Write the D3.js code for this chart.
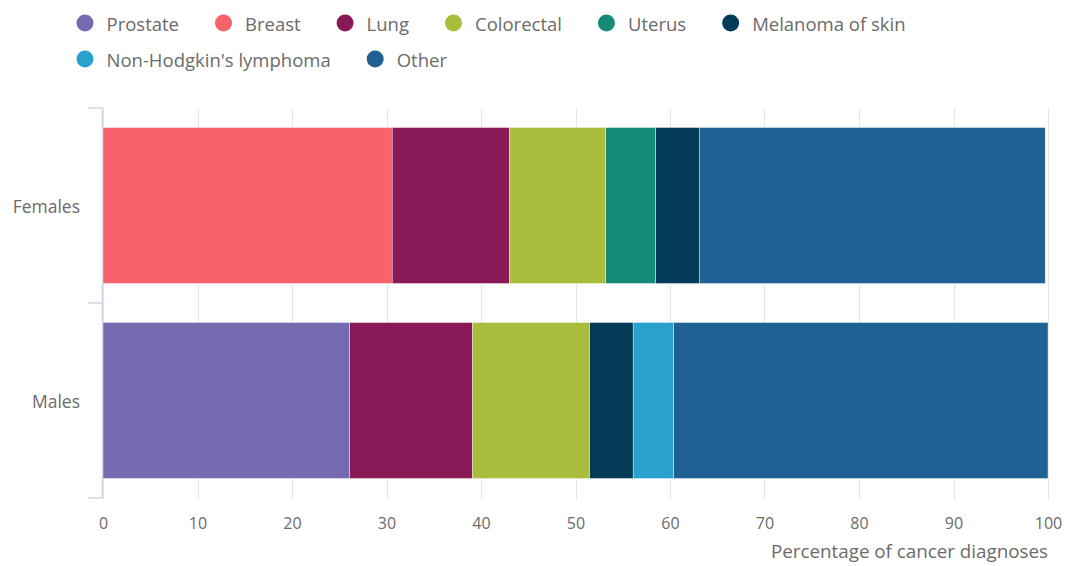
<!DOCTYPE html>
<html>
<head>
<meta charset="utf-8">
<script src="https://cdn.jsdelivr.net/npm/d3@7"></script>
<style>
  html, body { margin: 0; padding: 0; background: #fff; }
  svg { display: block; font-family: "Open Sans", "Noto Sans", sans-serif; }
</style>
</head>
<body>
<svg id="chart" width="1076" height="566"></svg>
<script>
// Groups shown on the vertical axis
const groups = ["Females", "Males"];

// Cancer types, in stacking / legend order
const cancerTypes = ["Prostate", "Breast", "Lung", "Colorectal", "Uterus",
  "Melanoma of skin", "Non-Hodgkin's lymphoma", "Other"];

// Share of diagnoses (%) for each type, one value per group (Females, Males)
const prostate   = [0,    26.1];
const breast     = [30.6, 0];
const lung       = [12.4, 13.0];
const colorectal = [10.2, 12.4];
const uterus     = [5.3,  0];
const melanoma   = [4.6,  4.6];
const nhl        = [0,    4.3];
const other      = [36.6, 39.6];

const typeColors = ["#746bb1", "#f6616a", "#891a57", "#aabc3b", "#158a77",
  "#023a57", "#28a2cd", "#206194"];

const xTicks = [0, 10, 20, 30, 40, 50, 60, 70, 80, 90, 100];
const xTitle = "Percentage of cancer diagnoses";

// Build rows for d3.stack
const seriesValues = [prostate, breast, lung, colorectal, uterus, melanoma, nhl, other];
const rows = groups.map((g, i) => {
  const r = { group: g };
  cancerTypes.forEach((t, k) => { r[t] = seriesValues[k][i]; });
  return r;
});

const svg = d3.select("#chart");
const margin = { left: 103, right: 28, top: 108, bottom: 68 };
const W = 1076, H = 566;
const textGray = "#6b6b6b";

const x = d3.scaleLinear().domain([0, 100]).range([margin.left, W - margin.right]);
const y = d3.scaleBand().domain(groups).range([margin.top, H - margin.bottom])
  .paddingInner(0.2).paddingOuter(0.1);
const color = d3.scaleOrdinal().domain(cancerTypes).range(typeColors);

// Vertical gridlines
svg.append("g").selectAll("line").data(xTicks).join("line")
  .attr("x1", d => Math.round(x(d)) + 0.5).attr("x2", d => Math.round(x(d)) + 0.5)
  .attr("y1", margin.top).attr("y2", H - margin.bottom + 2)
  .attr("stroke", "#e6e6e6").attr("stroke-width", 1);

// Category axis (left): line with ticks at band boundaries
const yAxisG = svg.append("g");
const bandEdges = [margin.top, (y("Females") + y.bandwidth() + y("Males")) / 2, H - margin.bottom];
yAxisG.append("line")
  .attr("x1", margin.left - 0.5).attr("x2", margin.left - 0.5)
  .attr("y1", margin.top).attr("y2", H - margin.bottom)
  .attr("stroke", "#ccd6eb").attr("stroke-width", 1.5);
yAxisG.selectAll("line.tick").data(bandEdges).join("line").attr("class", "tick")
  .attr("x1", margin.left - 15).attr("x2", margin.left)
  .attr("y1", d => d).attr("y2", d => d)
  .attr("stroke", "#ccd6eb").attr("stroke-width", 1.5);
yAxisG.selectAll("text").data(groups).join("text")
  .attr("x", margin.left - 23)
  .attr("y", d => y(d) + y.bandwidth() / 2)
  .attr("text-anchor", "end").attr("dominant-baseline", "central")
  .attr("fill", textGray).attr("font-size", 17.5)
  .text(d => d);

// Stacked bars
const stacked = d3.stack().keys(cancerTypes)(rows);
svg.append("g").selectAll("g").data(stacked).join("g")
  .attr("fill", d => color(d.key))
  .selectAll("rect").data(d => d.filter(p => p[1] - p[0] > 0)).join("rect")
  .attr("x", d => x(d[0]))
  .attr("width", d => x(d[1]) - x(d[0]))
  .attr("y", d => y(d.data.group))
  .attr("height", y.bandwidth())
  .attr("stroke", "#fff").attr("stroke-width", 0.4);

// Value axis labels
const xAxis = d3.axisBottom(x).tickValues(xTicks).tickSize(0).tickPadding(0);
const xg = svg.append("g").attr("transform", `translate(0, ${H - margin.bottom + 20})`).call(xAxis);
xg.select(".domain").remove();
xg.selectAll("text").attr("fill", textGray).attr("font-size", 16)
  .attr("font-family", "'Open Sans', 'Noto Sans', sans-serif")
  .attr("dy", "0.71em");

svg.append("text")
  .attr("x", x(100)).attr("y", 558)
  .attr("text-anchor", "end").attr("fill", textGray).attr("font-size", 18.8)
  .text(xTitle);

// Legend with flow layout
const legend = svg.append("g");
const legendStart = 85, legendMax = 940, rowY = [23, 59];
let lx = legendStart, row = 0;
cancerTypes.forEach((t, k) => {
  const item = legend.append("g");
  const txt = item.append("text")
    .attr("x", 21.5).attr("y", 0)
    .attr("dominant-baseline", "central")
    .attr("fill", textGray).attr("font-size", 18.5)
    .text(t);
  const w = txt.node().getComputedTextLength();
  if (lx + 21.5 + w > legendMax) { row += 1; lx = legendStart; }
  item.attr("transform", `translate(${lx}, ${rowY[row]})`);
  item.insert("circle", "text").attr("r", 8.5).attr("fill", color(t));
  lx += 21.5 + w + 44.5;
});
</script>
</body>
</html>
